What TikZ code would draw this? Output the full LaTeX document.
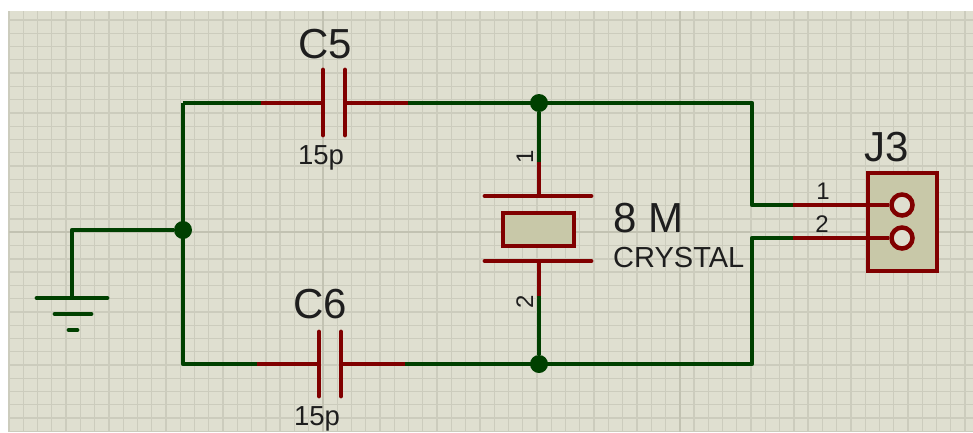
\documentclass[tikz,border=0pt]{standalone}
\usepackage{fontspec}
\setmainfont{Liberation Sans}
\usepackage{xcolor}
\usepackage{tikz}
\definecolor{sheet}{RGB}{223,223,208}
\definecolor{gridline}{RGB}{204,204,189}
\definecolor{gridmajor}{RGB}{194,194,178}
\definecolor{wiregreen}{RGB}{0,64,0}
\definecolor{pinred}{RGB}{128,0,0}
\definecolor{bodyfill}{RGB}{200,200,168}
\definecolor{labelgrey}{RGB}{30,30,30}
\tikzstyle{wire} = [draw=wiregreen,line width=4.7pt,line join=round]
\tikzstyle{pin} = [draw=pinred,line width=4.5pt,line join=round]
\tikzstyle{plate} = [draw=pinred,line width=4.8pt,line cap=round]
\tikzstyle{gndplate} = [draw=wiregreen,line width=4.8pt,line cap=round]
\tikzstyle{junction} = [circle,fill=wiregreen,minimum size=18pt,inner sep=0pt]
\tikzstyle{hole} = [circle,draw=pinred,line width=4.5pt,fill=sheet,minimum size=21pt,inner sep=0pt]
\tikzstyle{body} = [rectangle,draw=pinred,line width=4.5pt,fill=bodyfill,inner sep=0pt]
\tikzstyle{biglabel} = [inner sep=0pt,anchor=base,text=labelgrey,font=\fontsize{42}{42}\selectfont]
\tikzstyle{smalllabel} = [inner sep=0pt,anchor=base,text=labelgrey,font=\fontsize{27.5}{27.5}\selectfont]
\tikzstyle{pinlabel} = [inner sep=0pt,anchor=base,text=labelgrey,font=\fontsize{24}{24}\selectfont]
\begin{document}
\begin{tikzpicture}[x=1pt,y=-1pt]
  \useasboundingbox (0,0) rectangle (973,432);

  % sheet and grid
  \fill[sheet] (9,11) rectangle (973,432);
  \foreach \i in {0,...,67}
    \draw[gridline,line width=1.3pt] (9+\i*14.27,11) -- (9+\i*14.27,432);
  \foreach \i in {0,...,31}
    \draw[gridline,line width=1.3pt] (9,20+\i*13.27) -- (973,20+\i*13.27);
  \foreach \xx in {323,680}
    \draw[gridmajor,line width=1.6pt] (\xx,11) -- (\xx,432);
  \draw[gridmajor,line width=1.6pt] (9,232) -- (973,232);

  % wire corners and pin ends
  \foreach \x/\y/\name in {183/103/TL, 183/364/BL, 752/103/TR, 752/205/RA, 752/238/RB, 752/364/BR,
      72/230/GA, 72/298/GB, 37/298/GP1, 107/298/GP2, 55/314/GQ1, 91/314/GQ2, 69/330/GR1, 77/330/GR2,
      261/103/CFa, 323/103/CFb, 345/103/CFc, 408/103/CFd,
      323/70/CFe, 323/135/CFf, 345/70/CFg, 345/135/CFh,
      257/364/CSa, 319/364/CSb, 341/364/CSc, 405/364/CSd,
      319/332/CSe, 319/396/CSf, 341/332/CSg, 341/396/CSh,
      539/162/XA, 539/196/XB, 539/261/XC, 539/296/XD,
      485/196/XP1, 591/196/XP2, 485/261/XQ1, 591/261/XQ2,
      793/205/JA, 793/238/JB}
    \coordinate (\name) at (\x,\y);

  \foreach \x/\y/\name in {183/230/JL, 539/103/JT, 539/364/JB2}
    \node[junction] (\name) at (\x,\y) {};

  % green wires
  \path[wire] (TL) -- (BL) -- (CSa);
  \path[wire] (TL) -- (CFa);
  \path[wire] (CFd) -- (TR) -- (RA) -- (JA);
  \path[wire] (CSd) -- (BR) -- (RB) -- (JB);
  \path[wire] (JT) -- (XA);
  \path[wire] (XD) -- (JB2);
  \path[wire] (JL) -| (GB);
  \path[gndplate] (GP1) -- (GP2);
  \path[gndplate] (GQ1) -- (GQ2);
  \path[gndplate] (GR1) -- (GR2);

  % C5 and C6
  \path[pin] (CFa) -- (CFb);
  \path[pin] (CFc) -- (CFd);
  \path[plate] (CFe) -- (CFf);
  \path[plate] (CFg) -- (CFh);
  \path[pin] (CSa) -- (CSb);
  \path[pin] (CSc) -- (CSd);
  \path[plate] (CSe) -- (CSf);
  \path[plate] (CSg) -- (CSh);

  % crystal
  \path[pin] (XA) -- (XB);
  \path[pin] (XC) -- (XD);
  \path[plate] (XP1) -- (XP2);
  \path[plate] (XQ1) -- (XQ2);
  \node[body,minimum width=71pt,minimum height=33pt] (crystal) at (538.5,229.5) {};

  % J3
  \node[body,minimum width=69pt,minimum height=98pt] (conn) at (902.5,222) {};
  \node[hole] (holeA) at (902,205) {};
  \node[hole] (holeB) at (902,238) {};
  \path[pin] (JA) -- (holeA);
  \path[pin] (JB) -- (holeB);

  % labels
  \node[biglabel] (lblCF) at (325,58) {C5};
  \node[smalllabel] (valCF) at (321,164) {15p};
  \node[biglabel] (lblCS) at (320,318) {C6};
  \node[smalllabel] (valCS) at (317,425) {15p};
  \node[biglabel,anchor=base west] (lblX) at (613,232) {8 M};
  \node[smalllabel,anchor=base west,font=\fontsize{29}{29}\selectfont] (valX) at (613,267) {CRYSTAL};
  \node[biglabel] (lblJ) at (887,161) {J3};
  \node[pinlabel] (pinJA) at (823,199) {1};
  \node[pinlabel] (pinJB) at (822,232) {2};
  \node[pinlabel,rotate=90] (pinXA) at (533,157) {1};
  \node[pinlabel,rotate=90] (pinXB) at (533,302) {2};
\end{tikzpicture}
\end{document}
